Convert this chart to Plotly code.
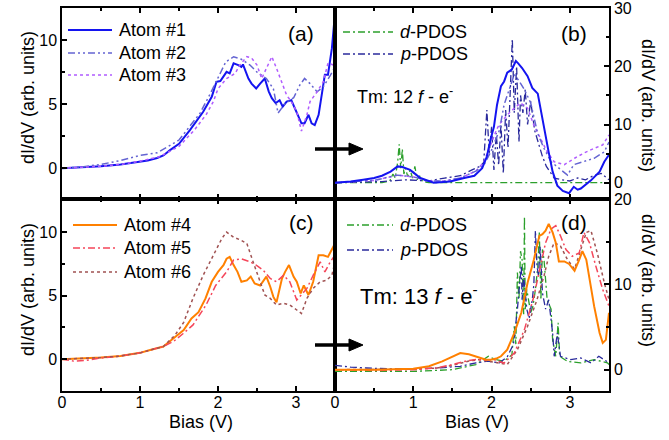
import plotly.graph_objects as go

# ---------------- data ----------------
# (a) measured dI/dV, Tm atoms #1-#3
a1_bias = [0, 0.25, 0.5, 0.75, 1.0, 1.1, 1.22, 1.3, 1.385, 1.5, 1.64, 1.72, 1.81, 1.92, 1.98, 2.03,
           2.07, 2.11, 2.15, 2.20, 2.26, 2.30, 2.32, 2.36, 2.39, 2.43, 2.49, 2.54, 2.60, 2.65, 2.69,
           2.74, 2.79, 2.83, 2.88, 2.94, 3.01, 3.07, 3.11, 3.16, 3.20, 3.24, 3.29, 3.33, 3.37, 3.41,
           3.46, 3.49, 3.52]
a1_val = [0, 0.05, 0.15, 0.3, 0.5, 0.6, 0.8, 1.0, 1.41, 1.9, 2.97, 3.6, 4.4, 5.57, 6.74, 6.8,
          7.13, 7.52, 7.4, 8.18, 8.05, 7.9, 8.1, 7.5, 7.0, 6.6, 6.22, 6.6, 7.0, 6.0, 5.47,
          5.08, 5.3, 4.8, 5.2, 5.3, 4.4, 3.5, 3.5, 4.17, 3.5, 3.37, 4.17, 5.8, 7.3, 7.3,
          9.35, 11.4, 13.5]
a2_bias = [0, 0.25, 0.5, 0.75, 1.0, 1.22, 1.5, 1.77, 1.9, 2.0, 2.1, 2.2, 2.3, 2.41, 2.5, 2.62,
           2.71, 2.77, 2.86, 2.97, 3.05, 3.11, 3.18, 3.27, 3.35, 3.44, 3.5]
a2_val = [0, 0.1, 0.3, 0.6, 1.0, 1.2, 2.2, 4.3, 5.8, 7.1, 8.3, 8.7, 8.5, 8.05, 7.5, 7.0,
          6.2, 4.3, 5.05, 5.5, 6.5, 7.0, 6.6, 5.96, 6.35, 7.25, 7.9]
a3_bias = [0, 0.25, 0.5, 0.75, 1.0, 1.25, 1.5, 1.7, 1.85, 1.94, 2.0, 2.11, 2.22, 2.28, 2.37, 2.43,
           2.5, 2.56, 2.62, 2.69, 2.75, 2.82, 2.88, 2.94, 3.01, 3.07, 3.14, 3.18, 3.27, 3.35,
           3.41, 3.48, 3.5]
a3_val = [0, 0.05, 0.15, 0.3, 0.55, 0.9, 1.7, 3.0, 4.2, 5.2, 6.2, 7.0, 7.4, 8.05, 8.7, 8.6,
          8.05, 7.0, 7.8, 8.7, 7.8, 6.74, 5.7, 5.2, 4.4, 2.9, 4.17, 5.2, 5.96, 6.74,
          8.2, 8.05, 8.2]

# (b) simulated dI/dV and PDOS, 12 f-electrons
b1_bias = [0, 0.2, 0.36, 0.5, 0.6, 0.71, 0.8, 0.86, 0.96, 1.09, 1.26, 1.47, 1.65, 1.78, 1.88,
           1.94, 1.99, 2.03, 2.07, 2.12, 2.16, 2.20, 2.26, 2.31, 2.34, 2.39, 2.46, 2.52, 2.59,
           2.65, 2.73, 2.78, 2.84, 2.91, 2.99, 3.05, 3.1, 3.14, 3.2, 3.27, 3.38, 3.44, 3.5]
b1_val = [0, 0.2, 0.5, 0.8, 1.2, 1.9, 2.8, 2.7, 2.2, 0.8, 0, 0.2, 0.8, 1.2, 2.5,
          4.5, 7.6, 9.6, 13.4, 16.6, 17.4, 18.9, 19.5, 20.9, 20.5, 19.7, 18.3, 16.3, 15.3,
          10.8, 5.2, 1.9, -0.5, -1.4, -1.8, -0.7, -1.2, -1.0, -0.3, 0.4, 1.9, 3.6, 4.8]
b2_bias = [0, 0.5, 0.8, 1.0, 1.2, 1.4, 1.6, 1.8, 1.9, 1.99, 2.1, 2.16, 2.29, 2.35, 2.42, 2.5,
           2.59, 2.67, 2.76, 2.86, 2.97, 3.05, 3.18, 3.31, 3.44, 3.5]
b2_val = [0, 0.4, 1.3, 1.0, 0.3, 0.3, 0.8, 2.0, 3.0, 5.3, 9.0, 13.4, 18.6, 17.5, 16.0, 13.7,
          8.4, 5.9, 3.6, 2.5, 1.3, 3.1, 3.6, 4.2, 5.3, 7.0]
b3_bias = [0, 0.5, 0.8, 1.0, 1.2, 1.4, 1.6, 1.8, 1.9, 2.0, 2.07, 2.11, 2.24, 2.37, 2.46, 2.54,
           2.63, 2.71, 2.80, 2.93, 3.06, 3.18, 3.31, 3.42, 3.5]
b3_val = [0, 0.4, 1.3, 1.0, 0.3, 0.3, 0.8, 2.0, 3.5, 7.0, 9.3, 10.2, 12.2, 13.7, 12.8, 9.9,
          7.6, 5.3, 3.6, 3.1, 4.2, 5.1, 5.9, 6.5, 8.2]
bd_bias = [0, 0.6, 0.7, 0.74, 0.77, 0.8, 0.82, 0.84, 0.86, 0.88, 0.9, 0.93, 0.96, 0.99, 1.02,
           1.05, 1.08, 1.12, 1.2, 3.5]
bd_val = [0, 0, 0.3, 1.5, 0.8, 3.5, 6.6, 2.5, 5.8, 1.5, 2.5, 1.0, 2.2, 0.8, 2.8,
          0.5, 1.2, 0.2, 0, 0]
bp_bias = [0, 0.3, 0.6, 0.9, 1.2, 1.4, 1.6, 1.75, 1.85, 1.9, 1.94, 1.97, 2.0, 2.03, 2.06, 2.09,
           2.12, 2.15, 2.18, 2.21, 2.24, 2.265, 2.29, 2.32, 2.35, 2.37, 2.40, 2.43, 2.46, 2.5,
           2.55, 2.6, 2.65, 2.7, 2.8, 2.9, 3.0, 3.1, 3.2, 3.3, 3.4, 3.5]
bp_val = [0, 0.1, 0.2, 0.5, 0.3, 0.8, 1.2, 2.2, 2.8, 3.5, 12.5, 5.0, 9.6, 2.2, 8.5, 3.0,
          10.0, 1.6, 12.5, 6.0, 18.0, 24.7, 12.0, 20.0, 7.0, 15.0, 12.0, 16.0, 10.0, 14.0,
          9.0, 6.8, 4.5, 2.8, 0.8, 0.5, 0.3, 0.8, 0.5, 1.2, 1.6, 0.5]

# (c) measured dI/dV, Tm atoms #4-#6
c4_bias = [0, 0.25, 0.5, 0.75, 1.0, 1.13, 1.3, 1.43, 1.56, 1.66, 1.75, 1.84, 1.92, 2.0, 2.07,
           2.11, 2.15, 2.2, 2.25, 2.3, 2.37, 2.42, 2.47, 2.54, 2.62, 2.67, 2.71, 2.75, 2.82,
           2.86, 2.91, 2.97, 3.01, 3.06, 3.10, 3.16, 3.22, 3.29, 3.35, 3.41, 3.46, 3.5]
c4_val = [0, 0.05, 0.13, 0.25, 0.5, 0.73, 1.0, 1.65, 2.3, 3.2, 3.7, 4.78, 6.09, 6.87, 7.4,
          7.9, 8.05, 7.4, 6.87, 6.09, 6.2, 6.5, 5.96, 5.8, 6.5, 5.7, 4.9, 4.47, 6.35,
          6.87, 7.4, 6.48, 6.09, 5.17, 5.8, 5.05, 6.09, 8.18, 8.18, 8.05, 8.7, 9.1]
c5_bias = [0, 0.15, 0.3, 0.5, 0.75, 1.0, 1.3, 1.43, 1.55, 1.68, 1.85, 1.97, 2.11, 2.2, 2.3,
           2.41, 2.49, 2.58, 2.67, 2.75, 2.84, 2.92, 3.01, 3.07, 3.14, 3.22, 3.31, 3.37, 3.44, 3.5]
c5_val = [0, -0.15, -0.1, 0.1, 0.25, 0.5, 1.0, 1.4, 2.0, 2.7, 4.3, 5.8, 6.87, 7.8, 7.9,
          7.66, 7.4, 7.0, 6.35, 6.09, 6.6, 6.09, 4.66, 5.05, 5.57, 6.6, 7.66, 6.87, 7.66, 8.2]
c6_bias = [0, 0.25, 0.5, 0.75, 1.0, 1.3, 1.45, 1.56, 1.68, 1.81, 1.94, 2.05, 2.11, 2.2, 2.28,
           2.37, 2.45, 2.54, 2.6, 2.67, 2.75, 2.84, 2.92, 3.01, 3.07, 3.14, 3.22, 3.31, 3.39,
           3.46, 3.5]
c6_val = [0, 0.05, 0.13, 0.25, 0.5, 1.0, 1.9, 2.9, 4.8, 6.6, 8.2, 9.5, 10.0, 9.6, 9.4,
          9.1, 7.66, 6.09, 5.05, 4.78, 4.26, 4.4, 4.26, 3.87, 3.6, 4.78, 5.57, 6.09, 6.2,
          6.6, 7.66]

# (d) simulated dI/dV and PDOS, 13 f-electrons
d4_bias = [0, 0.5, 1.0, 1.2, 1.37, 1.5, 1.6, 1.71, 1.84, 1.92, 1.99, 2.06, 2.12, 2.2, 2.29,
           2.38, 2.46, 2.54, 2.61, 2.65, 2.69, 2.73, 2.78, 2.82, 2.86, 2.93, 2.99, 3.06, 3.12,
           3.16, 3.21, 3.25, 3.31, 3.38, 3.42, 3.46, 3.5]
d4_val = [0, 0, 0.1, 0.4, 0.98, 1.5, 1.96, 1.8, 1.4, 1.2, 1.18, 1.3, 1.57, 2.35, 4.3,
          6.67, 10.2, 12.9, 15.7, 15.9, 16.3, 17.1, 16.1, 14.9, 12.7, 12.7, 12.4, 11.6, 12.9,
          13.9, 12.9, 10.6, 7.45, 4.3, 3.14, 3.5, 6.67]
d5_bias = [0, 0.5, 1.0, 1.3, 1.5, 1.67, 1.8, 1.9, 2.03, 2.16, 2.29, 2.42, 2.54, 2.63, 2.69,
           2.76, 2.82, 2.88, 2.95, 3.03, 3.12, 3.18, 3.25, 3.33, 3.42, 3.5]
d5_val = [0, -0.1, 0, 0.2, 0.6, 1.0, 1.2, 1.1, 1.18, 0.78, 1.96, 4.7, 8.6, 12.2, 14.9,
          16.5, 16.9, 15.7, 14.1, 13.3, 13.7, 16.1, 14.9, 12.2, 9.4, 7.45]
d6_bias = [0, 0.5, 1.0, 1.3, 1.5, 1.7, 1.85, 1.95, 2.07, 2.2, 2.33, 2.46, 2.58, 2.67, 2.73,
           2.8, 2.88, 2.97, 3.06, 3.14, 3.21, 3.27, 3.35, 3.44, 3.5]
d6_val = [0, 0, 0.05, 0.2, 0.5, 1.0, 1.2, 1.0, 0.78, 0.6, 2.35, 5.1, 8.2, 11.0, 13.3,
          14.9, 14.5, 12.9, 11.8, 14.1, 16.1, 16.3, 13.7, 10.2, 8.2]
dd_bias = [0, 0.5, 1.0, 1.5, 1.8, 1.96, 2.05, 2.15, 2.22, 2.26, 2.29, 2.31, 2.33, 2.35, 2.37,
           2.39, 2.41, 2.42, 2.43, 2.45, 2.5, 2.53, 2.56, 2.59, 2.61, 2.63, 2.65, 2.67, 2.71,
           2.76, 2.78, 2.82, 2.85, 2.87, 2.97, 3.14, 3.31, 3.48, 3.5]
dd_val = [-0.2, -0.2, -0.2, 0, 0.6, 1.57, 1.2, 1.0, 1.4, 1.77, 5.1, 3.0, 11.4, 8.2, 13.9,
          12.9, 6.5, 18.0, 7.1, 9.4, 6.67, 7.5, 9.4, 12.0, 16.1, 8.2, 14.1, 12.9, 8.2,
          7.1, 3.5, 1.57, 5.5, 1.57, 0.98, 0.8, 1.18, 0.8, 0.6]
dp_bias = [0, 0.1, 0.2, 0.4, 0.7, 1.0, 1.3, 1.6, 1.8, 1.95, 2.1, 2.2, 2.28, 2.33, 2.36, 2.38,
           2.39, 2.41, 2.43, 2.45, 2.48, 2.52, 2.54, 2.56, 2.58, 2.60, 2.62, 2.65, 2.69, 2.73,
           2.78, 2.8, 2.84, 2.88, 3.01, 3.14, 3.27, 3.37, 3.5]
dp_val = [0.5, 0.4, 0.3, 0.2, 0.1, 0.1, 0.2, 0.4, 0.8, 1.0, 0.8, 1.5, 3.0, 7.1, 10.0, 12.2,
          8.2, 11.0, 9.0, 7.1, 6.0, 8.2, 10.0, 16.3, 12.2, 11.0, 14.5, 9.0, 7.1, 8.2,
          4.3, 1.57, 4.3, 1.57, 1.18, 1.37, 0.8, 1.57, 0.8]

# ---------------- styles ----------------
BLUE, SLATE, VIOLET = "#1414f0", "#6464d2", "#b05cff"
GREEN, NAVY = "#2ca02c", "#2a2a9c"
ORANGE, RED, BROWN = "#ff8000", "#f5465a", "#a05252"
DASHDOTDOT = "7px,3px,2px,3px,2px,3px"
DASHDOT = "7px,3px,2px,3px"
SHORTDASH = "3px,3px"
FONT = "Liberation Sans, Arial, sans-serif"

# page geometry (pixels) used to place the panel decorations
L, R, T, B = 62, 60, 8, 49
W, H = 669, 440
PW, PH = W - L - R, H - T - B


def px(x, y):
    """pixel position -> paper coordinates"""
    return (x - L) / PW, (H - B - y) / PH


fig = go.Figure()
shapes = []
annotations = []


def add(x, y, color, dash, width, xa, ya, name=None, key=None):
    fig.add_trace(go.Scatter(
        x=x, y=y, mode="lines", name=name or "",
        line=dict(color=color, dash=dash, width=width),
        xaxis=xa, yaxis=ya, showlegend=False, hoverinfo="skip"))
    if key is not None:
        # legend entry: sample line + label
        x0, x1, yk = key
        p0, q = px(x0, yk)
        p1, _ = px(x1, yk)
        shapes.append(dict(type="line", xref="paper", yref="paper", x0=p0, x1=p1,
                           y0=q, y1=q, line=dict(color=color, dash=dash, width=width)))
        tx, _ = px(x1 + 5, yk)
        annotations.append(dict(text=name, x=tx, y=q, xref="paper", yref="paper",
                                showarrow=False, xanchor="left", yanchor="middle",
                                font=dict(family=FONT, size=18, color="black")))


# panel (a)
add(a1_bias, a1_val, BLUE, "solid", 2, "x", "y", "Atom #1", (68, 112, 30))
add(a2_bias, a2_val, SLATE, DASHDOTDOT, 1.5, "x", "y", "Atom #2", (68, 112, 53))
add(a3_bias, a3_val, VIOLET, SHORTDASH, 1.5, "x", "y", "Atom #3", (68, 112, 75))
# panel (b)
add(bd_bias, bd_val, GREEN, DASHDOT, 1.3, "x2", "y2", "<i>d</i>-PDOS", (343, 393, 32))
add(bp_bias, bp_val, NAVY, DASHDOT, 1.3, "x2", "y2", "<i>p</i>-PDOS", (343, 393, 54))
add(b3_bias, b3_val, VIOLET, SHORTDASH, 1.5, "x2", "y2")
add(b2_bias, b2_val, SLATE, DASHDOTDOT, 1.5, "x2", "y2")
add(b1_bias, b1_val, BLUE, "solid", 2, "x2", "y2")
# panel (c)
add(c4_bias, c4_val, ORANGE, "solid", 2, "x3", "y3", "Atom #4", (73, 117, 225))
add(c5_bias, c5_val, RED, DASHDOT, 1.5, "x3", "y3", "Atom #5", (73, 117, 248))
add(c6_bias, c6_val, BROWN, SHORTDASH, 1.5, "x3", "y3", "Atom #6", (73, 117, 272))
# panel (d)
add(dd_bias, dd_val, GREEN, DASHDOT, 1.3, "x4", "y4", "<i>d</i>-PDOS", (347, 393, 225))
add(dp_bias, dp_val, NAVY, DASHDOT, 1.3, "x4", "y4", "<i>p</i>-PDOS", (347, 393, 250))
add(d6_bias, d6_val, BROWN, SHORTDASH, 1.5, "x4", "y4")
add(d5_bias, d5_val, RED, DASHDOT, 1.5, "x4", "y4")
add(d4_bias, d4_val, ORANGE, "solid", 2, "x4", "y4")

# ---------------- axes ----------------
XSPLIT = (335 - L) / PW
YSPLIT = (H - B - 199) / PH
tickfont = dict(family=FONT, size=16, color="black")


def xaxis(domain, anchor, labels):
    return dict(domain=domain, anchor=anchor, range=[0, 3.5], tickvals=[0, 1, 2, 3],
                ticks="inside", ticklen=5, tickwidth=1.5, tickcolor="black",
                minor=dict(tickvals=[0.5, 1.5, 2.5], ticks="inside", ticklen=3,
                           tickwidth=1.5, tickcolor="black"),
                showline=True, linecolor="black", linewidth=1.5, mirror="ticks",
                showgrid=False, zeroline=False, showticklabels=labels,
                tickfont=tickfont, automargin=False, ticklabelstandoff=-4,
                ticklabeloverflow="allow")


def yaxis(domain, anchor, rng, major, minor, side):
    return dict(domain=domain, anchor=anchor, range=rng, tickvals=major, side=side,
                ticks="inside", ticklen=5, tickwidth=1.5, tickcolor="black",
                minor=dict(tickvals=minor, ticks="inside", ticklen=3,
                           tickwidth=1.5, tickcolor="black"),
                showline=True, linecolor="black", linewidth=1.5, mirror=True,
                showgrid=False, zeroline=False, tickfont=tickfont, automargin=False,
                ticklabeloverflow="allow")


fig.update_layout(
    xaxis=xaxis([0, XSPLIT], "y", False),
    xaxis2=xaxis([XSPLIT, 1], "y2", False),
    xaxis3=xaxis([0, XSPLIT], "y3", True),
    xaxis4=xaxis([XSPLIT, 1], "y4", True),
    yaxis=yaxis([YSPLIT, 1], "x", [-2.4, 12.5], [0, 5, 10], [2.5, 7.5], "left"),
    yaxis2=yaxis([YSPLIT, 1], "x2", [-2.8, 30.02], [0, 10, 20, 30], [5, 15, 25], "right"),
    yaxis3=yaxis([0, YSPLIT], "x3", [-2.5, 12.6], [0, 5, 10], [2.5, 7.5], "left"),
    yaxis4=yaxis([0, YSPLIT], "x4", [-2.5, 20.02], [0, 10, 20], [5, 15], "right"),
)

# ---------------- text ----------------


def label(text, x, y, size, angle=0, xanchor="center"):
    xp, yp = px(x, y)
    annotations.append(dict(text=text, x=xp, y=yp, xref="paper", yref="paper",
                            showarrow=False, textangle=angle, xanchor=xanchor,
                            yanchor="middle",
                            font=dict(family=FONT, size=size, color="black")))


label("(a)", 301, 33, 21)
label("(b)", 574, 33, 21)
label("(c)", 301, 222, 21)
label("(d)", 574, 222, 21)
label("Tm: 12 <i>f</i> - e<sup>-</sup>", 355, 95, 18, xanchor="left")
label("Tm: 13 <i>f</i> - e<sup>-</sup>", 358, 295, 22, xanchor="left")
label("dI/dV (arb. units)", 28, 98, 18, angle=-90)
label("dI/dV (arb. units)", 28, 290, 18, angle=-90)
label("dI/dV (arb. units)", 648, 105, 18, angle=90)
label("dI/dV (arb. units)", 648, 280, 18, angle=90)
label("Bias (V)", 201, 422, 18)
label("Bias (V)", 477, 422, 18)

# arrows linking measured and simulated panels
for ya in (149, 345):
    s0, yq = px(315, ya)
    s1, _ = px(352, ya)
    shapes.append(dict(type="line", xref="paper", yref="paper", x0=s0, x1=s1, y0=yq, y1=yq,
                       line=dict(color="black", width=3.5)))
    hx0, hy0 = px(349, ya - 6)
    hx1, hy1 = px(363, ya)
    hx2, hy2 = px(349, ya + 6)
    shapes.append(dict(type="path", xref="paper", yref="paper",
                       path=f"M{hx0},{hy0} L{hx1},{hy1} L{hx2},{hy2} Z",
                       fillcolor="black", line=dict(color="black", width=1)))

fig.update_layout(
    annotations=annotations,
    shapes=shapes,
    showlegend=False,
    width=W, height=H,
    margin=dict(l=L, r=R, t=T, b=B, pad=0),
    paper_bgcolor="white", plot_bgcolor="white",
    font=dict(family=FONT, color="black"),
)

fig.write_html("out.html")
